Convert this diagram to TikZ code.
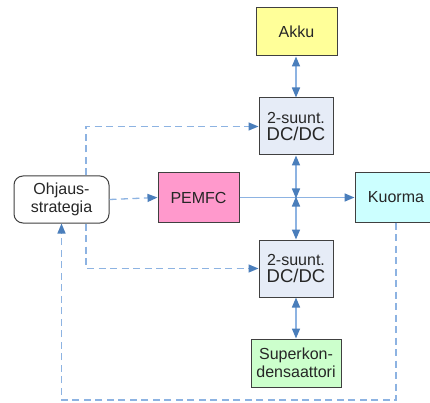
\documentclass[tikz,border=0pt]{standalone}
\usepackage{fontspec}
\setmainfont{Liberation Sans}
\usetikzlibrary{arrows.meta}
\definecolor{linkblue}{HTML}{8DB3E2}
\definecolor{tipblue}{HTML}{4A7EBB}
\definecolor{edgegray}{HTML}{404040}
\definecolor{akkufill}{HTML}{FFFF99}
\definecolor{dcfill}{HTML}{E6ECF7}
\definecolor{fcfill}{HTML}{FF99CC}
\definecolor{loadfill}{HTML}{CCFFFF}
\definecolor{capfill}{HTML}{CCFFCC}
\begin{document}
\begin{tikzpicture}[x=1pt,y=-1pt,
  >={Triangle[length=10pt,width=8pt,color=tipblue]},
  block/.style={draw=edgegray, line width=1pt, align=center, inner sep=0pt,
    text=black!85, font=\fontsize{16}{18.5}\selectfont},
  power/.style={draw=linkblue, line width=1.6pt},
  signal/.style={draw=linkblue, line width=1.3pt, dash pattern=on 7pt off 4.5pt}]
\useasboundingbox (0,0) rectangle (430,403);
\fill[white] (0,0) rectangle (430,403);

% blocks
\node[block, fill=akkufill, minimum width=81pt, minimum height=48pt] (akku) at (296.5,32) {Akku};
\node[block, fill=dcfill, minimum width=74pt, minimum height=57pt] (dcup) at (296,126.5)
  {2-suunt.\\[-1pt]{\fontsize{18.5}{19}\selectfont DC/DC}};
\node[block, fill=white, rounded corners=9pt, minimum width=95pt, minimum height=47pt] (ctrl) at (61.5,199.5)
  {Ohjaus-\\strategia};
\node[block, fill=fcfill, minimum width=81pt, minimum height=49pt] (fc) at (198.5,197.5) {PEMFC};
\node[block, fill=loadfill, minimum width=82pt, minimum height=49pt] (load) at (396,197.5) {Kuorma};
\node[block, fill=dcfill, minimum width=74pt, minimum height=57pt] (dclow) at (296,268.5)
  {2-suunt.\\[-1pt]{\fontsize{18.5}{19}\selectfont DC/DC}};
\node[block, fill=capfill, minimum width=90pt, minimum height=48pt] (cap) at (296,363)
  {Superkon-\\densaattori};

\coordinate (bus) at (296,197.5);
\coordinate (loopbottom) at (0,400);

% power paths
\draw[power, <->] (akku.south -| dcup.north) -- (dcup.north);
\draw[power, ->] (fc.east) -- (load.west);
\draw[power, <->] (dcup.south) -- ([yshift=-1pt]bus);
\draw[power, <->] ([yshift=1pt]bus) -- (dclow.north);
\draw[power, <->] (dclow.south) -- (cap.north);

% control signals
\draw[signal, ->] (ctrl.east) -- (fc.west);
\draw[signal, ->] ([xshift=24.5pt]ctrl.north) |- (dcup.west);
\draw[signal, ->] ([xshift=24.5pt]ctrl.south) |- (dclow.west);
\draw[signal, ->] (load.south) -- (load.south |- loopbottom) -| (ctrl.south);
\end{tikzpicture}
\end{document}
